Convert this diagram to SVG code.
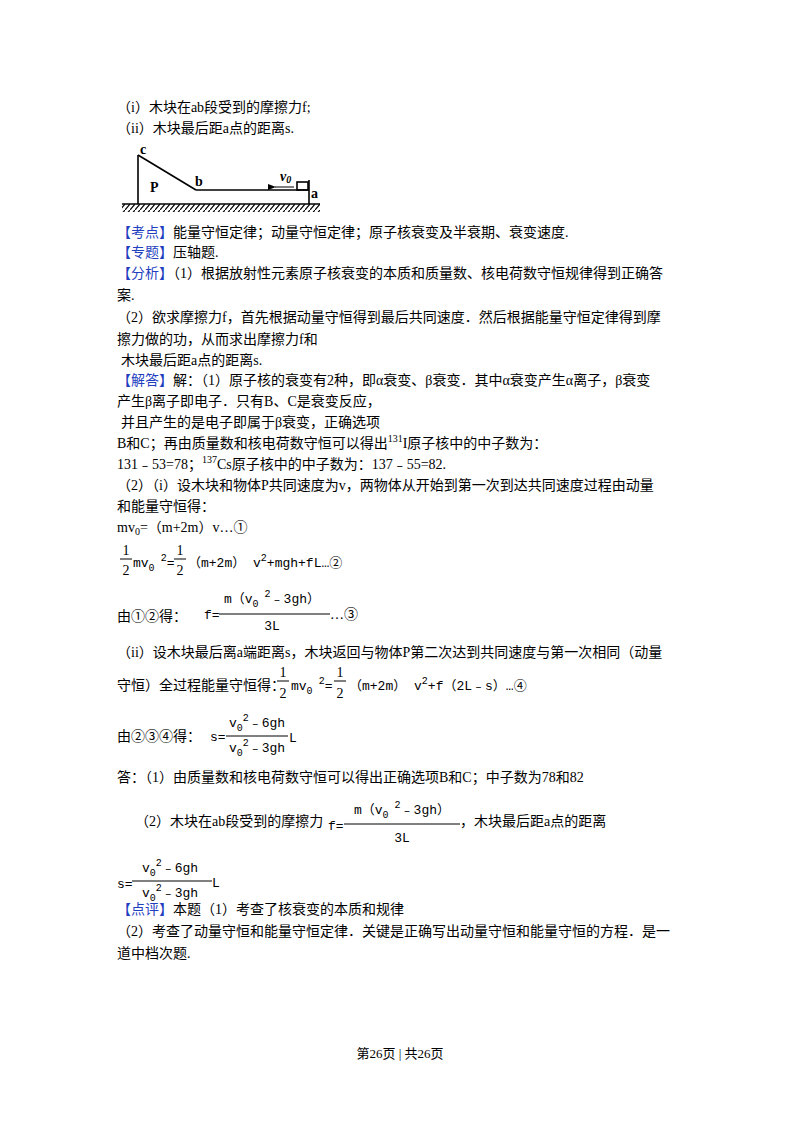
<svg xmlns="http://www.w3.org/2000/svg" width="800" height="1132" viewBox="0 0 800 1132">
<defs>
<pattern id="hatch" width="5" height="6" patternUnits="userSpaceOnUse"><line x1="0" y1="6" x2="5" y2="0" stroke="#000" stroke-width="1.2"/></pattern>
<marker id="arr" markerWidth="8" markerHeight="6" refX="1" refY="3" orient="auto"><path d="M8,0 L0,3 L8,6 z" fill="#000"/></marker>
</defs>
<style>
text{font-family:"Liberation Serif","Noto Sans CJK SC",serif;font-size:14px;fill:#000}
.h{fill:#1f3fbf}
.m{font-family:"Liberation Mono","Noto Sans CJK SC",monospace;font-size:13px}
.c{text-anchor:middle}
.s{font-size:10px}
.fl{stroke:#000;stroke-width:1}
</style>
<rect width="800" height="1132" fill="#fff"/>
<text x="117" y="112">（i）木块在ab段受到的摩擦力f;</text>
<text x="117" y="133">（ii）木块最后距a点的距离s.</text>
<g id="figure" fill="none" stroke="#000" stroke-width="1.6">
<rect x="122" y="204" width="198" height="8" fill="url(#hatch)" stroke="none"/>
<line x1="122" y1="204" x2="320" y2="204"/>
<line x1="138" y1="155" x2="138" y2="204"/>
<line x1="138" y1="155" x2="196" y2="190"/>
<line x1="196" y1="190" x2="309" y2="190"/>
<line x1="309" y1="180" x2="309" y2="204"/>
<rect x="297" y="182" width="11" height="8"/>
<line x1="294" y1="187" x2="275" y2="187" stroke-width="1" marker-end="url(#arr)"/>
</g>
<text x="140" y="154" font-weight="bold">c</text>
<text x="150" y="192" font-weight="bold">P</text>
<text x="195" y="186" font-weight="bold">b</text>
<text x="280" y="181" font-style="italic" font-weight="bold">v<tspan class="s" dy="2">0</tspan></text>
<text x="311" y="198" font-weight="bold">a</text>
<text x="117" y="237"><tspan class="h">【考点】</tspan>能量守恒定律；动量守恒定律；原子核衰变及半衰期、衰变速度.</text>
<text x="117" y="257"><tspan class="h">【专题】</tspan>压轴题.</text>
<text x="117" y="278"><tspan class="h">【分析】</tspan>（1）根据放射性元素原子核衰变的本质和质量数、核电荷数守恒规律得到正确答</text>
<text x="117" y="300">案.</text>
<text x="117" y="322">（2）欲求摩擦力f，首先根据动量守恒得到最后共同速度．然后根据能量守恒定律得到摩</text>
<text x="117" y="344">擦力做的功，从而求出摩擦力f和</text>
<text x="121" y="365">木块最后距a点的距离s.</text>
<text x="117" y="385"><tspan class="h">【解答】</tspan>解：（1）原子核的衰变有2种，即α衰变、β衰变．其中α衰变产生α离子，β衰变</text>
<text x="117" y="406">产生β离子即电子．只有B、C是衰变反应，</text>
<text x="121" y="427">并且产生的是电子即属于β衰变，正确选项</text>
<text x="117" y="448">B和C；再由质量数和核电荷数守恒可以得出<tspan class="s" dy="-6">131</tspan><tspan dy="6">I原子核中的中子数为：</tspan></text>
<text x="117" y="469">131﹣53=78；<tspan class="s" dy="-6">137</tspan><tspan dy="6">Cs原子核中的中子数为：137﹣55=82.</tspan></text>
<text x="117" y="490">（2）（i）设木块和物体P共同速度为v，两物体从开始到第一次到达共同速度过程由动量</text>
<text x="117" y="511">和能量守恒得：</text>
<text x="117" y="532">mv<tspan class="s" dy="3">0</tspan><tspan dy="-3">=（m+2m）v…①</tspan></text>
<text x="126" y="555" class="c">1</text><line class="fl" x1="120" y1="559" x2="132" y2="559"/><text x="126" y="575" class="c">2</text>
<text x="133" y="567" class="m">mv<tspan class="s" dy="4">0</tspan><tspan class="s" dy="-10"> 2</tspan><tspan dy="6">=</tspan></text>
<text x="180" y="555" class="c">1</text><line class="fl" x1="174" y1="559" x2="186" y2="559"/><text x="180" y="575" class="c">2</text>
<text x="188" y="567" class="m">（m+2m） v<tspan class="s" dy="-6">2</tspan><tspan dy="6">+mgh+fL…②</tspan></text>
<text x="117" y="621">由①②得：</text>
<text x="204" y="619" class="m">f=</text>
<line class="fl" x1="219" y1="614" x2="330" y2="614"/>
<text x="272" y="603" class="m c">m（v<tspan class="s" dy="4">0</tspan><tspan class="s" dy="-10"> 2</tspan><tspan dy="6">﹣3gh）</tspan></text>
<text x="272" y="630" class="m c">3L</text>
<text x="330" y="619">…③</text>
<text x="117" y="657">（ii）设木块最后离a端距离s，木块返回与物体P第二次达到共同速度与第一次相同（动量</text>
<text x="117" y="690">守恒）全过程能量守恒得：</text>
<text x="283" y="677" class="c">1</text><line class="fl" x1="277" y1="681" x2="289" y2="681"/><text x="283" y="698" class="c">2</text>
<text x="291" y="690" class="m">mv<tspan class="s" dy="4">0</tspan><tspan class="s" dy="-10"> 2</tspan><tspan dy="6">=</tspan></text>
<text x="340" y="677" class="c">1</text><line class="fl" x1="334" y1="681" x2="346" y2="681"/><text x="340" y="698" class="c">2</text>
<text x="349" y="690" class="m">（m+2m） v<tspan class="s" dy="-6">2</tspan><tspan dy="6">+f（2L﹣s）…④</tspan></text>
<text x="117" y="741">由②③④得：</text>
<text x="210" y="741" class="m">s=</text>
<line class="fl" x1="226" y1="736" x2="288" y2="736"/>
<text x="257" y="727" class="m c">v<tspan class="s" dy="4">0</tspan><tspan class="s" dy="-10">2</tspan><tspan dy="6">﹣6gh</tspan></text>
<text x="257" y="752" class="m c">v<tspan class="s" dy="4">0</tspan><tspan class="s" dy="-10">2</tspan><tspan dy="6">﹣3gh</tspan></text>
<text x="289" y="742" class="m">L</text>
<text x="117" y="782">答：（1）由质量数和核电荷数守恒可以得出正确选项B和C；中子数为78和82</text>
<text x="135" y="826">（2）木块在ab段受到的摩擦力</text>
<text x="328" y="830" class="m">f=</text>
<line class="fl" x1="344" y1="824" x2="460" y2="824"/>
<text x="402" y="814" class="m c">m（v<tspan class="s" dy="4">0</tspan><tspan class="s" dy="-10"> 2</tspan><tspan dy="6">﹣3gh）</tspan></text>
<text x="402" y="842" class="m c">3L</text>
<text x="460" y="826">，木块最后距a点的距离</text>
<text x="117" y="888" class="m">s=</text>
<line class="fl" x1="132" y1="881" x2="212" y2="881"/>
<text x="170" y="872" class="m c">v<tspan class="s" dy="4">0</tspan><tspan class="s" dy="-10">2</tspan><tspan dy="6">﹣6gh</tspan></text>
<text x="170" y="897" class="m c">v<tspan class="s" dy="4">0</tspan><tspan class="s" dy="-10">2</tspan><tspan dy="6">﹣3gh</tspan></text>
<text x="212" y="887" class="m">L</text>
<text x="117" y="914"><tspan class="h">【点评】</tspan>本题（1）考查了核衰变的本质和规律</text>
<text x="117" y="936">（2）考查了动量守恒和能量守恒定律．关键是正确写出动量守恒和能量守恒的方程．是一</text>
<text x="117" y="958">道中档次题.</text>
<text x="400" y="1058" class="c" style="font-size:13px">第26页 | 共26页</text>
</svg>
